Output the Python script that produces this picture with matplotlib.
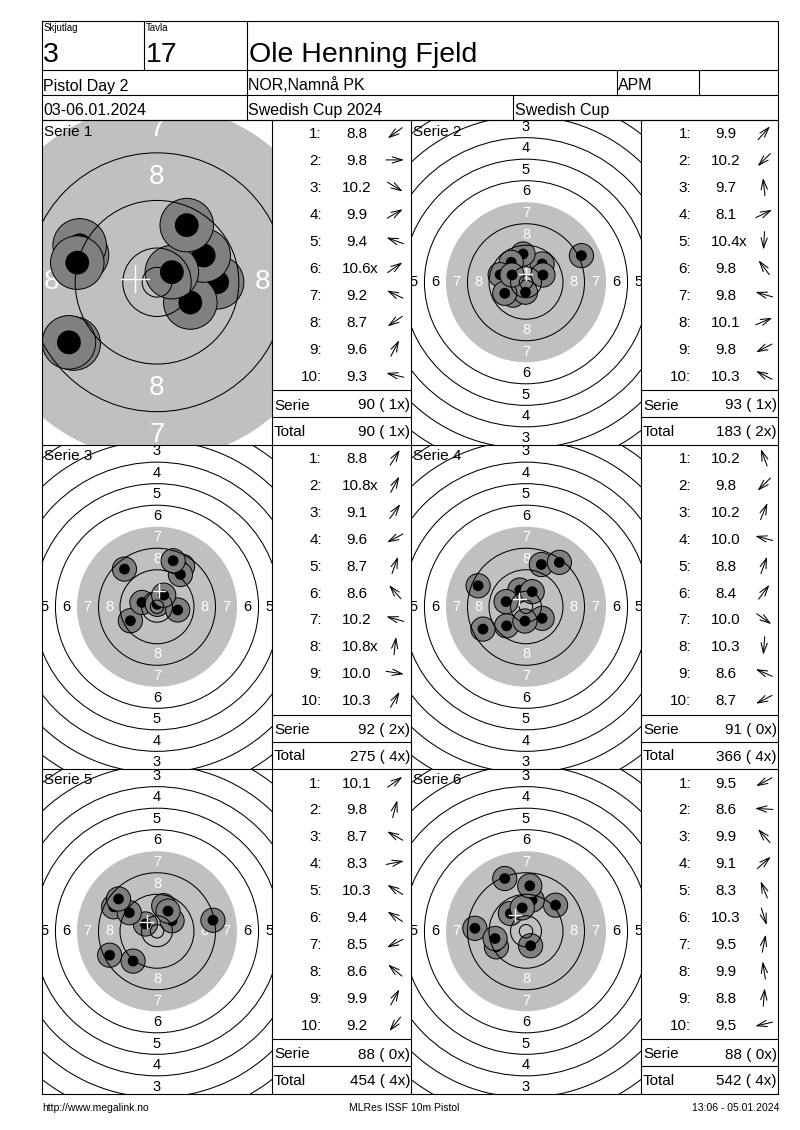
import matplotlib
matplotlib.use('Agg')
import matplotlib.pyplot as plt
from matplotlib.patches import Circle
import numpy as np

plt.rcParams['font.family'] = ['Liberation Sans', 'DejaVu Sans']

W, H = 800, 1130

# header texts
relay = '3'
lane = '17'
shooter = 'Ole Henning Fjeld'
event = 'Pistol Day 2'
club = 'NOR,Namnå PK'
klass = 'APM'
dates = '03-06.01.2024'
competition = 'Swedish Cup 2024'
cup = 'Swedish Cup'
foot_left = 'http://www.megalink.no'
foot_mid = 'MLRes ISSF 10m Pistol'
foot_right = '13:06 - 05.01.2024'

# shots, mm from target centre (y up)
s1_x = [-14.0, 10.1, 5.6, 7.85, -12.6, 2.5, -13.0, -14.8, 5.0, -13.4]
s1_y = [-10.3, 0.0, -3.4, 4.5, 4.6, 1.7, 6.2, -10.1, 9.6, 3.3]
s1_sc = ['8.8', '9.8', '10.2', '9.9', '9.4', '10.6x', '9.2', '8.7', '9.6', '9.3']

s2_x = [6.0, -4.8, -1.1, 20.6, -0.2, -5.5, -9.6, 6.3, -7.9, -5.2]
s2_y = [6.8, -4.8, 10.5, 9.9, -3.7, 7.4, 2.8, 2.7, -4.1, 2.7]
s2_sc = ['9.9', '10.2', '9.7', '8.1', '10.4x', '9.8', '9.8', '10.1', '9.8', '10.3']

s3_x = [9.5, 0.8, 8.7, -9.9, 6.0, -12.1, -5.6, 0.1, 7.7, 2.5]
s3_y = [15.0, 1.5, 12.0, -5.2, 17.1, 14.0, 1.6, 0.9, -1.2, 4.3]
s3_sc = ['8.8', '10.8x', '9.1', '9.6', '8.7', '8.6', '10.2', '10.8x', '10.0', '10.3']

s4_x = [-2.3, -7.2, 2.3, -7.4, 5.7, 12.4, 6.0, -0.4, -17.8, -16.0]
s4_y = [6.2, -7.1, 5.6, 1.9, 15.7, 16.5, -4.3, -5.3, 7.8, -8.3]
s4_sc = ['10.2', '9.8', '10.2', '10.0', '8.8', '8.4', '10.0', '10.3', '8.6', '8.7']

s5_x = [5.6, 2.5, -16.1, 20.8, -4.3, -10.3, -17.6, -14.3, 4.1, -8.9]
s5_y = [3.9, 9.5, 9.1, 4.1, 2.7, 6.9, -8.9, 12.0, 7.5, -11.1]
s5_sc = ['10.1', '9.8', '8.7', '8.3', '10.3', '9.4', '8.5', '8.6', '9.9', '9.2']

s6_x = [-11.0, -19.0, -5.8, 11.0, -7.9, 1.7, 2.3, -1.4, 1.4, -11.5]
s6_y = [-5.8, 1.1, 6.6, 9.7, 19.6, -5.4, 11.6, 8.7, 16.9, -2.7]
s6_sc = ['9.5', '8.6', '9.9', '9.1', '8.3', '10.3', '9.5', '9.9', '8.8', '9.5']

series = [(s1_x, s1_y, s1_sc), (s2_x, s2_y, s2_sc), (s3_x, s3_y, s3_sc),
          (s4_x, s4_y, s4_sc), (s5_x, s5_y, s5_sc), (s6_x, s6_y, s6_sc)]

row_tops = [120, 444.5, 769, 1093.5]
tgt_left = [42, 411]
tab_left = [272, 641]
tab_right = [411, 778]
GREY = '#c0c0c0'
SHOT = '#808080'


def ring_r(r):
    return 5.75 + 8 * (10 - r)


def draw_target(ax, xs, ys, wpx, hpx, scale, fs):
    ax.set_xlim(-wpx / 2 / scale, wpx / 2 / scale)
    ax.set_ylim(-hpx / 2 / scale, hpx / 2 / scale)
    ax.axis('off')
    ax.add_patch(Circle((0, 0), ring_r(7), fc=GREY, ec='none', zorder=1))
    for r in range(1, 9):
        d = ring_r(r) - 4
        c = 'white' if r >= 7 else 'black'
        for px, py in [(0, d), (0, -d), (d, 0), (-d, 0)]:
            ax.text(px, py, str(r), ha='center', va='center', color=c,
                    fontsize=fs, zorder=2, clip_on=True)
    for x, y in zip(xs, ys):
        ax.add_patch(Circle((x, y), 4.5, fc=SHOT, ec='black', lw=0.7, zorder=3))
        ax.add_patch(Circle((x, y), 2.0, fc='black', ec='none', zorder=3))
    for r in [1, 2, 3, 4, 5, 6, 8, 9, 10]:
        ax.add_patch(Circle((0, 0), ring_r(r), fc='none', ec='black', lw=0.75, zorder=4))
    ax.add_patch(Circle((0, 0), 2.5, fc='none', ec='black', lw=0.75, zorder=4))
    mx, my = np.mean(xs), np.mean(ys)
    ax.plot([mx - 2.3, mx + 2.3], [my, my], color='white', lw=1, zorder=5)
    ax.plot([mx, mx], [my - 2.3, my + 2.3], color='white', lw=1, zorder=5)


fig = plt.figure(figsize=(W / 100, H / 100), dpi=100)
fig.patch.set_facecolor('white')

for k, (xs, ys, sc) in enumerate(series):
    row, col = k // 2, k % 2
    top = row_tops[row]
    hpx = row_tops[row + 1] - top
    wpx = tab_left[col] - tgt_left[col]
    tax = fig.add_axes([tgt_left[col] / W, 1 - (top + hpx) / H, wpx / W, hpx / H])
    if k == 0:
        draw_target(tax, xs, ys, wpx, hpx, 5.95, 20)
    else:
        draw_target(tax, xs, ys, wpx, hpx, 2.69, 10.5)

ax = fig.add_axes([0, 0, 1, 1], zorder=10)
ax.set_xlim(0, W)
ax.set_ylim(H, 0)
ax.axis('off')

lk = dict(color='black', lw=0.8)
# header grid
ax.plot([42, 778, 778, 42, 42], [20.5, 20.5, 120, 120, 20.5], **lk)
ax.plot([42, 778], [70, 70], **lk)
ax.plot([42, 778], [95, 95], **lk)
ax.plot([144, 144], [20.5, 70], **lk)
ax.plot([247, 247], [20.5, 120], **lk)
ax.plot([617, 617], [70, 95], **lk)
ax.plot([699, 699], [70, 95], **lk)
ax.plot([513, 513], [95, 120], **lk)

ax.text(44, 31, 'Skjutlag', fontsize=7, va='baseline')
ax.text(146, 31, 'Tavla', fontsize=7, va='baseline')
ax.text(43, 62, relay, fontsize=20.5, va='baseline')
ax.text(146, 62, lane, fontsize=20.5, va='baseline')
ax.text(249, 62, shooter, fontsize=20.5, va='baseline')
ax.text(43, 90.5, event, fontsize=11.5, va='baseline')
ax.text(248, 90.5, club, fontsize=11.5, va='baseline')
ax.text(618, 90.5, klass, fontsize=11.5, va='baseline')
ax.text(43, 115, dates, fontsize=11.5, va='baseline')
ax.text(248, 115, competition, fontsize=11.5, va='baseline')
ax.text(515, 115, cup, fontsize=11.5, va='baseline')

# series grid
for y in row_tops:
    ax.plot([42, 778], [y, y], **lk)
for x in [42, 272, 411, 641, 778]:
    ax.plot([x, x], [row_tops[0], row_tops[-1]], **lk)

total = 0
total_x = 0
for k, (xs, ys, sc) in enumerate(series):
    row, col = k // 2, k % 2
    top = row_tops[row]
    tl, tr = tab_left[col], tab_right[col]
    ax.text(tgt_left[col] + 2, top + 10, 'Serie %d' % (k + 1), fontsize=11,
            va='center_baseline', ha='left')
    for i in range(10):
        y = top + 13 + 26.9 * i
        ax.text(tl + 50, y, '%d:' % (i + 1), fontsize=11, ha='right', va='center_baseline')
        val = sc[i].rstrip('x')
        t = ax.text(tl + 85, y, val, fontsize=11, ha='center', va='center_baseline')
        if sc[i].endswith('x'):
            ax.annotate('x', xy=(1, 0), xycoords=t, xytext=(-1.2, 0),
                        textcoords='offset points', fontsize=11, ha='left', va='bottom')
        a = np.arctan2(ys[i], xs[i])
        dx, dy = 9 * np.cos(a), -9 * np.sin(a)
        cx = tl + 123
        ax.annotate('', xy=(cx + dx, y + dy), xytext=(cx - dx, y - dy),
                    arrowprops=dict(arrowstyle='->,head_length=0.9,head_width=0.28',
                                    lw=0.75, color='black', mutation_scale=8,
                                    shrinkA=0, shrinkB=0))
    ssum = sum(int(float(s.rstrip('x'))) for s in sc)
    nx = sum(s.endswith('x') for s in sc)
    total += ssum
    total_x += nx
    ax.plot([tl, tr], [top + 270, top + 270], **lk)
    ax.plot([tl, tr], [top + 297, top + 297], **lk)
    ax.text(tl + 2, top + 284, 'Serie', fontsize=11, va='center_baseline')
    ax.text(tr - 1, top + 284, '%d ( %dx)' % (ssum, nx), fontsize=11,
            va='center_baseline', ha='right')
    ax.text(tl + 2, top + 310.5, 'Total', fontsize=11, va='center_baseline')
    ax.text(tr - 1, top + 310.5, '%d ( %dx)' % (total, total_x), fontsize=11,
            va='center_baseline', ha='right')

ax.text(42, 1108, foot_left, fontsize=7.5, va='center')
ax.text(404, 1108, foot_mid, fontsize=7.5, va='center', ha='center')
ax.text(779, 1108, foot_right, fontsize=7.5, va='center', ha='right')

fig.savefig('out.png', dpi=100, facecolor='white')
